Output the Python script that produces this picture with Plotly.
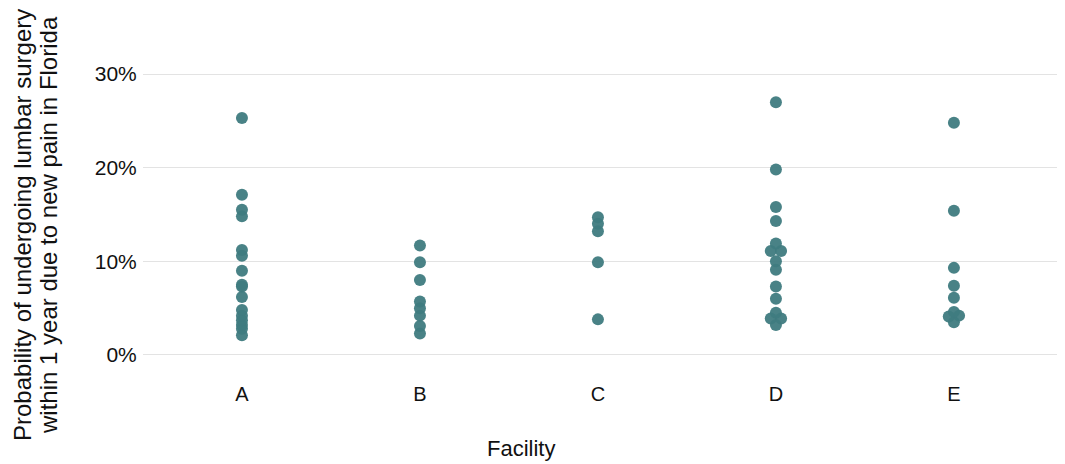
import plotly.graph_objects as go

facilities = ["A", "B", "C", "D", "E"]
values_A = [25.3, 17.1, 15.5, 14.8, 11.2, 10.6, 9.0, 7.5, 7.3, 6.2, 4.8, 4.2, 3.7, 3.2, 2.8, 2.1]
values_B = [11.7, 9.9, 8.0, 5.7, 5.0, 4.2, 3.1, 2.3]
values_C = [14.7, 14.0, 13.2, 9.9, 3.8]
values_D = [27.0, 19.8, 15.8, 14.3, 11.9, 11.1, 11.1, 10.0, 9.1, 7.3, 6.0, 4.5, 3.9, 3.9, 3.2]
values_E = [24.8, 15.4, 9.3, 7.4, 6.1, 4.6, 4.2, 4.1, 3.5]
series = [values_A, values_B, values_C, values_D, values_E]
y_ticks = [0, 10, 20, 30]
y_tick_labels = ["0%", "10%", "20%", "30%"]
y_title_lines = ["Probability of undergoing lumbar surgery",
                 "within 1 year due to new pain in Florida"]
x_title = "Facility"

# simple dodge: near-identical values are placed side by side
xs, ys = [], []
for i, vals in enumerate(series):
    groups = []
    for v in sorted(vals):
        if groups and abs(v - groups[-1][-1]) <= 0.15:
            groups[-1].append(v)
        else:
            groups.append([v])
    for g in groups:
        n = len(g)
        for k, v in enumerate(g):
            xs.append(i + (k - (n - 1) / 2) * 0.058)
            ys.append(v)

W, H = 1057, 456
L, R, T, B = 135, 5, 52, 95
pw, ph = W - L - R, H - T - B

color = "#3f7b80"
fig = go.Figure(go.Scatter(
    x=xs, y=ys, mode="markers",
    marker=dict(size=12, color=color, opacity=0.95, line=dict(width=0)),
    hoverinfo="y",
))

font = "Liberation Sans, Arial, Helvetica, sans-serif"
fig.update_layout(
    width=W, height=H,
    margin=dict(l=L, r=R, t=T, b=B),
    plot_bgcolor="white", paper_bgcolor="white",
    font=dict(family=font, size=21, color="#111111"),
    showlegend=False,
    xaxis=dict(
        range=[-0.556, 4.596], tickmode="array",
        tickvals=list(range(len(facilities))), ticktext=facilities,
        showgrid=False, zeroline=False, showline=False,
        ticks="outside", ticklen=7, tickcolor="rgba(0,0,0,0)",
        tickfont=dict(size=20),
    ),
    yaxis=dict(
        range=[-1.5, 31.5], tickmode="array",
        tickvals=y_ticks, ticktext=y_tick_labels,
        showgrid=True, gridcolor="#e3e3e3", gridwidth=1,
        zeroline=False, showline=False,
        ticks="outside", ticklen=1, tickcolor="rgba(0,0,0,0)",
        tickfont=dict(size=21),
    ),
    annotations=[
        dict(text=y_title_lines[0], textangle=-90, xref="paper", yref="paper",
             x=-(L - 14) / pw, y=(T + ph - 217) / ph, xanchor="center", yanchor="middle",
             showarrow=False, font=dict(size=24, family=font, color="#111111")),
        dict(text=y_title_lines[1], textangle=-90, xref="paper", yref="paper",
             x=-(L - 40) / pw, y=(T + ph - 217) / ph, xanchor="center", yanchor="middle",
             showarrow=False, font=dict(size=24, family=font, color="#111111")),
        dict(text=x_title, xref="paper", yref="paper",
             x=(513 - L) / pw, y=-(440 - (T + ph)) / ph, xanchor="center", yanchor="middle",
             showarrow=False, font=dict(size=22, family=font, color="#111111")),
    ],
)

fig.write_html("out.html")
